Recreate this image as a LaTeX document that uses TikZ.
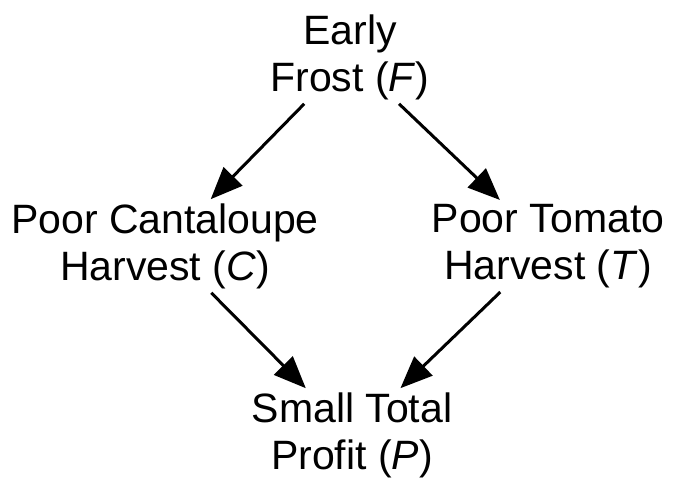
\documentclass[tikz,border=0pt]{standalone}
\usepackage{fontspec}
\setmainfont{Liberation Sans}
\usetikzlibrary{arrows.meta}

\tikzset{
  event/.style = {align=center, inner sep=4pt,
                  font=\fontsize{41}{47}\selectfont},
  cause/.style = {line width=3pt,
                  -{Triangle[length=32pt,width=26pt]}}
}

\begin{document}
\begin{tikzpicture}[x=1pt, y=-1pt]
\useasboundingbox (0,0) rectangle (680,501);
\node[event] (F) at (350,57) {Early\\Frost (\textit{F})};
\node[event] (C) at (165,246) {Poor Cantaloupe\\Harvest (\textit{C})};
\node[event] (T) at (548,246) {Poor Tomato\\Harvest (\textit{T})};
\node[event] (P) at (352,435) {Small Total\\Profit (\textit{P})};

\draw[cause] (F) -- (C);
\draw[cause] (F) -- (T);
\draw[cause] (C) -- (P);
\draw[cause] (T) -- (P);
\end{tikzpicture}
\end{document}
